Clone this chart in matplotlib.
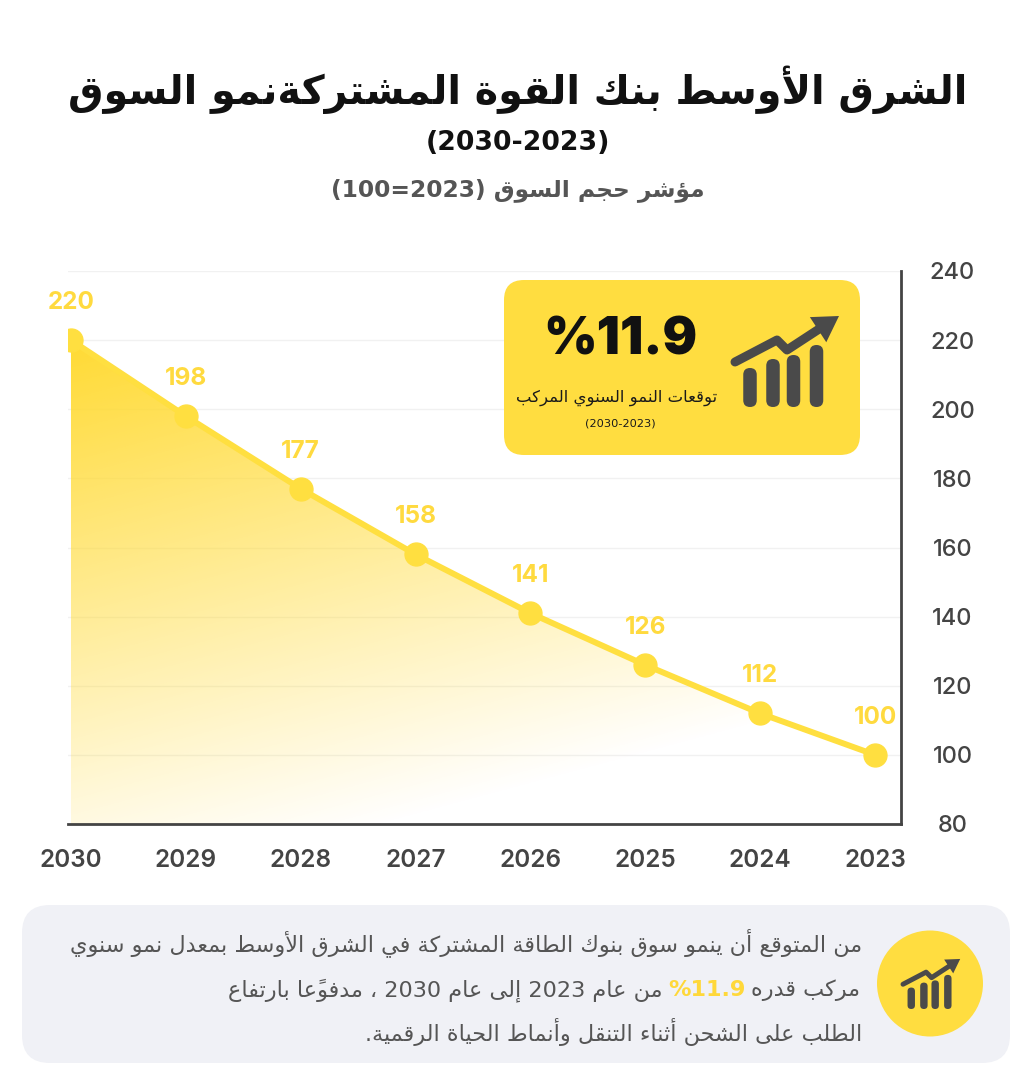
import re
import numpy as np
import matplotlib
matplotlib.use('Agg')
import matplotlib.pyplot as plt
from matplotlib.patches import FancyBboxPatch, Circle, Polygon

W, H = 1034, 1086

# chart data
years = ['2030', '2029', '2028', '2027', '2026', '2025', '2024', '2023']
index_values = [220, 198, 177, 158, 141, 126, 112, 100]
y_ticks = [80, 100, 120, 140, 160, 180, 200, 220, 240]

# texts
title = 'الشرق الأوسط بنك القوة المشتركةنمو السوق'
period = '(2030-2023)'
subtitle = 'مؤشر حجم السوق (2023=100)'
cagr = '%11.9'
cagr_label = 'توقعات النمو السنوي المركب'
note_line1 = 'من المتوقع أن ينمو سوق بنوك الطاقة المشتركة في الشرق الأوسط بمعدل نمو سنوي'
note_line2_a = 'مركب قدره'
note_line2_b = 'من عام 2023 إلى عام 2030 ، مدفوعًا بارتفاع'
note_line3 = 'الطلب على الشحن أثناء التنقل وأنماط الحياة الرقمية.'

YELLOW = '#FFDD40'
LINE_YELLOW = '#FFDF40'
DARK = '#444444'
ICON = '#4A4A4A'

plt.rcParams['font.family'] = ['DejaVu Sans']

# --- small Arabic shaper (matplotlib does no shaping / bidi) ---
# base letter -> (first presentation form, number of forms)
FORMS = {
    0x0621: (0xFE80, 1), 0x0622: (0xFE81, 2), 0x0623: (0xFE83, 2), 0x0624: (0xFE85, 2),
    0x0625: (0xFE87, 2), 0x0626: (0xFE89, 4), 0x0627: (0xFE8D, 2), 0x0628: (0xFE8F, 4),
    0x0629: (0xFE93, 2), 0x062A: (0xFE95, 4), 0x062B: (0xFE99, 4), 0x062C: (0xFE9D, 4),
    0x062D: (0xFEA1, 4), 0x062E: (0xFEA5, 4), 0x062F: (0xFEA9, 2), 0x0630: (0xFEAB, 2),
    0x0631: (0xFEAD, 2), 0x0632: (0xFEAF, 2), 0x0633: (0xFEB1, 4), 0x0634: (0xFEB5, 4),
    0x0635: (0xFEB9, 4), 0x0636: (0xFEBD, 4), 0x0637: (0xFEC1, 4), 0x0638: (0xFEC5, 4),
    0x0639: (0xFEC9, 4), 0x063A: (0xFECD, 4), 0x0641: (0xFED1, 4), 0x0642: (0xFED5, 4),
    0x0643: (0xFED9, 4), 0x0644: (0xFEDD, 4), 0x0645: (0xFEE1, 4), 0x0646: (0xFEE5, 4),
    0x0647: (0xFEE9, 4), 0x0648: (0xFEED, 2), 0x0649: (0xFEEF, 2), 0x064A: (0xFEF1, 4),
}
LAM_ALEF = {0x0622: 0xFEF5, 0x0623: 0xFEF7, 0x0625: 0xFEF9, 0x0627: 0xFEFB}


def is_mark(c):
    return 0x064B <= ord(c) <= 0x065F or ord(c) == 0x0670


def shape(text):
    chars = list(text)
    n = len(chars)
    out = []
    prev_joins = False
    i = 0
    while i < n:
        c = chars[i]
        code = ord(c)
        if is_mark(c):
            out.append(c)
            i += 1
            continue
        if code not in FORMS:
            out.append(c)
            prev_joins = False
            i += 1
            continue
        j = i + 1
        while j < n and is_mark(chars[j]):
            j += 1
        nxt = ord(chars[j]) if j < n else None
        if code == 0x0644 and nxt in LAM_ALEF:
            out.append(chr(LAM_ALEF[nxt] + (1 if prev_joins else 0)))
            out.extend(chars[i + 1:j])
            prev_joins = False
            i = j + 1
            continue
        base, nforms = FORMS[code]
        joins_next = nforms == 4 and nxt in FORMS and nxt != 0x0621
        if nforms == 1:
            form = 0
        elif prev_joins and joins_next:
            form = 3
        elif prev_joins:
            form = 1
        elif joins_next:
            form = 2
        else:
            form = 0
        out.append(chr(base + form))
        prev_joins = joins_next
        i += 1
    return ''.join(out)


def ar(text):
    s = shape(text)
    tokens = re.findall(r'[0-9%][0-9.%\-]*[0-9%]|[0-9%]|.[\u064B-\u065F\u0670]*', s)
    tokens = tokens[::-1]
    mirror = {'(': ')', ')': '('}
    return ''.join(mirror.get(t, t) for t in tokens)


fig = plt.figure(figsize=(W / 100, H / 100), dpi=100)
fig.patch.set_facecolor('white')
renderer = fig.canvas.get_renderer()

# --- main chart ---
ax = fig.add_axes([68 / W, 1 - 824 / H, (901 - 68) / W, (824 - 271) / H])
x = np.arange(len(years))
ax.set_xlim(-0.026, 7.226)
ax.set_ylim(80, 240)

ax.set_yticks(y_ticks)
ax.yaxis.tick_right()
ax.grid(axis='y', color='#f1f1f1', lw=1)
ax.set_axisbelow(True)
for side in ['left', 'top']:
    ax.spines[side].set_visible(False)
for side in ['right', 'bottom']:
    ax.spines[side].set_color(DARK)
    ax.spines[side].set_linewidth(2)

ax.set_xticks(x)
ax.set_xticklabels(years, family='Inter', fontsize=17.5, fontweight='semibold', color=DARK)
ax.set_yticklabels([str(v) for v in y_ticks], family='Inter', fontsize=17,
                   fontweight='medium', color=DARK, ha='center')
ax.tick_params(axis='x', length=0, pad=18)
ax.tick_params(axis='y', length=0, pad=37)

# gradient fill under the line
poly = ax.fill_between(x, index_values, 80, color='none', lw=0)
gx = np.linspace(-0.03, 7, 300)
gy = np.linspace(80, 220, 300)
GX, GY = np.meshgrid(gx, gy)
alpha = np.clip(1 - 0.85 * (220 - GY) / 140 - 0.38 * GX / 7, 0, 1)
rgba = np.zeros(GX.shape + (4,))
rgba[..., 0] = 1.0
rgba[..., 1] = 0.855
rgba[..., 2] = 0.2
rgba[..., 3] = alpha
im = ax.imshow(rgba, extent=[-0.03, 7, 80, 220], origin='lower', aspect='auto', zorder=1)
im.set_clip_path(poly.get_paths()[0], transform=ax.transData)

ax.plot(x, index_values, color=LINE_YELLOW, lw=4.3, marker='o', ms=16.5, zorder=3)
for xi, v in zip(x, index_values):
    ax.annotate(str(v), (xi, v), xytext=(0, 27), textcoords='offset points',
                ha='center', va='center', color='#FFDA3F', fontsize=17.5,
                fontweight='bold', family='Inter', zorder=4)

# --- overlay in pixel coordinates ---
dec = fig.add_axes([0, 0, 1, 1], zorder=5)
dec.set_xlim(0, W)
dec.set_ylim(H, 0)
dec.axis('off')
dec.patch.set_alpha(0)


def fit_text(xp, yp, s, width, **kw):
    t = dec.text(xp, yp, s, fontsize=10, **kw)
    w = t.get_window_extent(renderer).width
    t.set_fontsize(10 * width / w)
    return t


def draw_icon(ox, oy, k):
    bars = [(15, 39), (38, 48), (58.5, 52), (81.5, 62)]
    bw = 13.5 * k
    for cx, h in bars:
        dec.add_patch(FancyBboxPatch((ox + cx * k - bw / 2, oy - h * k), bw, h * k,
                                     boxstyle='round,pad=0,rounding_size=%f' % (bw / 2),
                                     fc=ICON, ec='none'))
    pts = np.array([(0, -45), (42, -67), (52, -57)], dtype=float)
    tip = np.array([104, -91], dtype=float)
    d = tip - pts[-1]
    d = d / np.hypot(*d)
    perp = np.array([-d[1], d[0]])
    base = tip - 25 * d
    line = np.vstack([pts, base + 2 * d])
    dec.plot(ox + line[:, 0] * k, oy + line[:, 1] * k, color=ICON, lw=9 * k / 1.389,
             solid_capstyle='round', solid_joinstyle='round')
    head = np.array([tip, base + 15 * perp, base - 15 * perp])
    dec.add_patch(Polygon(np.column_stack([ox + head[:, 0] * k, oy + head[:, 1] * k]),
                          closed=True, fc=ICON, ec='none'))


# titles
fit_text(518, 90, ar(title), 900, ha='center', va='center', fontweight='bold', color='#111111')
fit_text(518, 143, period, 185, ha='center', va='center', fontweight='bold', color='#111111')
fit_text(518, 190, ar(subtitle), 375, ha='center', va='center', fontweight='bold', color='#555555')

# CAGR card
dec.add_patch(FancyBboxPatch((504, 280), 356, 175, boxstyle='round,pad=0,rounding_size=20',
                             fc=YELLOW, ec='none'))
fit_text(620, 341, cagr, 154, ha='center', va='center', family='Inter', fontweight='black',
         color='#111111')
fit_text(617, 398, ar(cagr_label), 201, ha='center', va='center', color='#1a1a1a')
fit_text(620, 423, period, 70, ha='center', va='center', color='#1a1a1a')
draw_icon(735, 407, 1.0)

# bottom note
dec.add_patch(FancyBboxPatch((22, 905), 988, 158, boxstyle='round,pad=0,rounding_size=28',
                             fc='#F0F1F6', ec='none'))
dec.add_patch(Circle((930, 983.5), 53, fc=YELLOW, ec='none'))
draw_icon(903, 1009, 0.55)

t1 = fit_text(862, 943, ar(note_line1), 794, ha='right', va='center', color='#555555')
fs = t1.get_fontsize()
gap = fs * 0.35
xr = 860
ta = dec.text(xr, 990, ar(note_line2_a), fontsize=fs, ha='right', va='center', color='#555555')
xr -= ta.get_window_extent(renderer).width + gap
tb = dec.text(xr, 990, cagr, fontsize=fs, ha='right', va='center', color='#FFD83A',
              fontweight='bold')
xr -= tb.get_window_extent(renderer).width + gap
dec.text(xr, 990, ar(note_line2_b), fontsize=fs, ha='right', va='center', color='#555555')
dec.text(862, 1032, ar(note_line3), fontsize=fs, ha='right', va='center', color='#555555')

fig.savefig('out.png', dpi=100)
